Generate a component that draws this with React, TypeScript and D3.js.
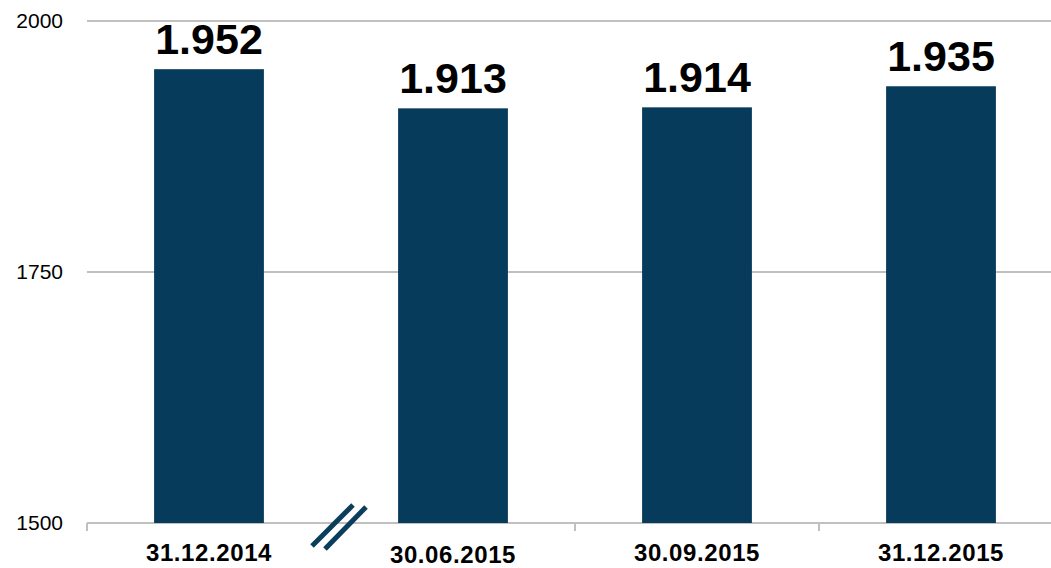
import React from "react";
import * as d3 from "d3";

const categories = ["31.12.2014", "30.06.2015", "30.09.2015", "31.12.2015"];
const values = [1952, 1913, 1914, 1935];
const yTicks = [1500, 1750, 2000];

const W = 1051;
const H = 568;

export default function App() {
  const x = d3.scaleBand<string>().domain(categories).range([87, 87 + 4 * 244]).paddingInner(0.55).paddingOuter(0.275);
  const y = d3.scaleLinear().domain([1500, 2000]).range([523, 21]);
  const loc = d3.formatLocale({ decimal: ",", thousands: ".", grouping: [3], currency: ["", "€"] });
  const fmt = loc.format(",d");
  const step = x.step();
  const start = 87;
  const font = "'Liberation Sans', Arial, sans-serif";
  const boundaries = d3.range(0, categories.length).map((i) => start + i * step).filter((b) => b < W);
  const labelY = [561, 563, 561, 561];

  return (
    <svg width={W} height={H} style={{ position: "absolute", left: 0, top: 0, background: "#fff" }} fontFamily={font}>
      {yTicks.map((t) => (
        <g key={t}>
          <line x1={start} x2={W} y1={y(t)} y2={y(t)} stroke="#c0c0c0" strokeWidth={2} />
          <text x={63} y={y(t)} dy="0.35em" textAnchor="end" fontSize={21} fill="#000">{t}</text>
        </g>
      ))}
      {boundaries.map((b, i) => (
        i === 1 ? null : <line key={i} x1={b} x2={b} y1={y(1500)} y2={y(1500) + 8} stroke="#c0c0c0" strokeWidth={2} />
      ))}
      {categories.map((c, i) => (
        <g key={c}>
          <rect x={x(c)} y={y(values[i])} width={x.bandwidth()} height={y(1500) - y(values[i])} fill="#073b5b" />
          <text x={(x(c) as number) + x.bandwidth() / 2} y={y(values[i]) - 15} textAnchor="middle" fontSize={43} fontWeight="bold" fill="#000">{fmt(values[i])}</text>
          <text x={(x(c) as number) + x.bandwidth() / 2} y={labelY[i]} textAnchor="middle" fontSize={24} fontWeight="bold" fill="#000" letterSpacing={0.6}>{c}</text>
        </g>
      ))}
      <line x1={312} y1={546} x2={353} y2={505} stroke="#0b3d5c" strokeWidth={5} />
      <line x1={325} y1={549} x2={366} y2={507} stroke="#0b3d5c" strokeWidth={5} />
    </svg>
  );
}
